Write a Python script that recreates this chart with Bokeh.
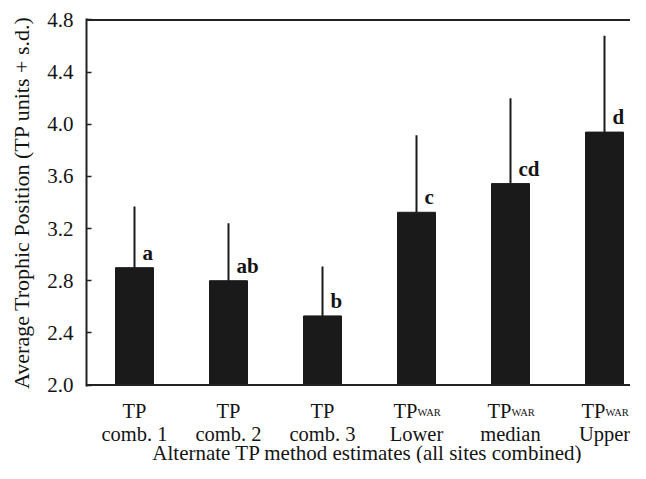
from bokeh.plotting import figure
from bokeh.layouts import column
from bokeh.models import (ColumnDataSource, Range1d, FixedTicker, NumeralTickFormatter,
                          LabelSet, Span)
from bokeh.core.properties import value
from bokeh.embed import file_html
from bokeh.resources import INLINE

# ---- data ----
cat_main = ["TP", "TP", "TP", "TP", "TP", "TP"]
cat_sub = ["", "", "", "WAR", "WAR", "WAR"]
cat_line2 = ["comb. 1", "comb. 2", "comb. 3", "Lower", "median", "Upper"]
means = [2.90, 2.80, 2.53, 3.325, 3.545, 3.94]
sds = [0.47, 0.44, 0.38, 0.59, 0.655, 0.74]
letters = ["a", "ab", "b", "c", "cd", "d"]
y_ticks = [2.0, 2.4, 2.8, 3.2, 3.6, 4.0, 4.4, 4.8]
x_title = "Alternate TP method estimates (all sites combined)"
y_title = "Average Trophic Position (TP units + s.d.)"

FONT = "Liberation Serif"
INK = "#141414"
BAR = "#1a1a1a"

xs = list(range(1, len(cat_line2) + 1))
src = ColumnDataSource(dict(
    x=xs, top=means, err=[m + s for m, s in zip(means, sds)], lab=letters,
))

W = 630
H_MAIN = 396
H_LAB = 67
LEFT = 86
pad = 0.0115
x_range = Range1d(0.4894, 6.2766)

p = figure(width=W, height=H_MAIN, output_backend="svg", toolbar_location=None,
           x_range=x_range, y_range=Range1d(y_ticks[0] - pad, y_ticks[-1] + pad),
           min_border_left=LEFT, min_border_right=0, min_border_top=18, min_border_bottom=10)
p.title.visible = False
p.background_fill_color = "white"
p.border_fill_color = "white"
p.outline_line_color = None
p.xgrid.visible = False
p.ygrid.visible = False
p.xaxis.visible = False

ya = p.yaxis[0]
ya.ticker = FixedTicker(ticks=y_ticks)
ya.formatter = NumeralTickFormatter(format="0.0")
ya.major_tick_in = 5
ya.major_tick_out = 0
ya.minor_tick_in = 0
ya.minor_tick_out = 0
ya.axis_line_width = 2
ya.axis_line_color = "#222222"
ya.major_tick_line_color = "#222222"
ya.major_tick_line_width = 1.5
ya.major_label_text_font = FONT
ya.major_label_text_font_size = "21px"
ya.major_label_text_color = INK
ya.major_label_standoff = 13
ya.axis_label = y_title
ya.axis_label_text_font = FONT
ya.axis_label_text_font_size = "22px"
ya.axis_label_text_font_style = "normal"
ya.axis_label_text_color = INK
ya.axis_label_standoff = 10

# frame top and bottom lines
p.add_layout(Span(location=y_ticks[0], dimension="width", line_color="#222222", line_width=2))
p.add_layout(Span(location=y_ticks[-1], dimension="width", line_color="#222222", line_width=2))

p.vbar(x="x", top="top", bottom=y_ticks[0], width=0.404, source=src,
       fill_color=BAR, line_color=BAR, line_width=1)
p.segment(x0="x", y0="top", x1="x", y1="err", source=src,
          line_color=BAR, line_width=2)

p.add_layout(LabelSet(x="x", y="top", text="lab", source=src, x_offset=8, y_offset=8,
                      text_font=value(FONT), text_font_size="21px", text_font_style="bold",
                      text_color=INK, text_align="left", text_baseline="alphabetic"))

# ---- category label strip (shares the x scale) ----
q = figure(width=W, height=H_LAB, output_backend="svg", toolbar_location=None,
           x_range=x_range, y_range=Range1d(H_LAB, 0),
           min_border_left=LEFT, min_border_right=0, min_border_top=0, min_border_bottom=0)
q.title.visible = False
q.outline_line_color = None
q.axis.visible = False
q.grid.visible = False
q.background_fill_color = "white"
q.border_fill_color = "white"

plain = [i for i, s in enumerate(cat_sub) if not s]
withsub = [i for i, s in enumerate(cat_sub) if s]
FS = "20.5px"
# rows of the label strip (pixels from its top)
ROW1, ROW_SUB, ROW2, ROW_T = 14, 16, 37, 56

q.text(x=[xs[i] for i in plain], y=[ROW1] * len(plain), text=[cat_main[i] for i in plain],
       text_font=value(FONT), text_font_size=FS, text_color=INK,
       text_align="center", text_baseline="alphabetic")
q.text(x=[xs[i] for i in withsub], y=[ROW1] * len(withsub), text=[cat_main[i] for i in withsub],
       x_offset=1, text_font=value(FONT), text_font_size=FS, text_color=INK,
       text_align="right", text_baseline="alphabetic")
q.text(x=[xs[i] for i in withsub], y=[ROW_SUB] * len(withsub), text=[cat_sub[i] for i in withsub],
       x_offset=1, text_font=value(FONT), text_font_size="10.5px", text_color=INK,
       text_align="left", text_baseline="alphabetic")
q.text(x=xs, y=[ROW2] * len(xs), text=cat_line2,
       text_font=value(FONT), text_font_size=FS, text_color=INK,
       text_align="center", text_baseline="alphabetic")
title_x = (0.4894 + 6.468) / 2
q.text(x=[title_x], y=[ROW_T], text=[x_title],
       text_font=value(FONT), text_font_size="21px", text_color=INK,
       text_align="center", text_baseline="alphabetic")

layout = column(p, q, spacing=0)
open("out.html", "w").write(file_html(layout, INLINE))
